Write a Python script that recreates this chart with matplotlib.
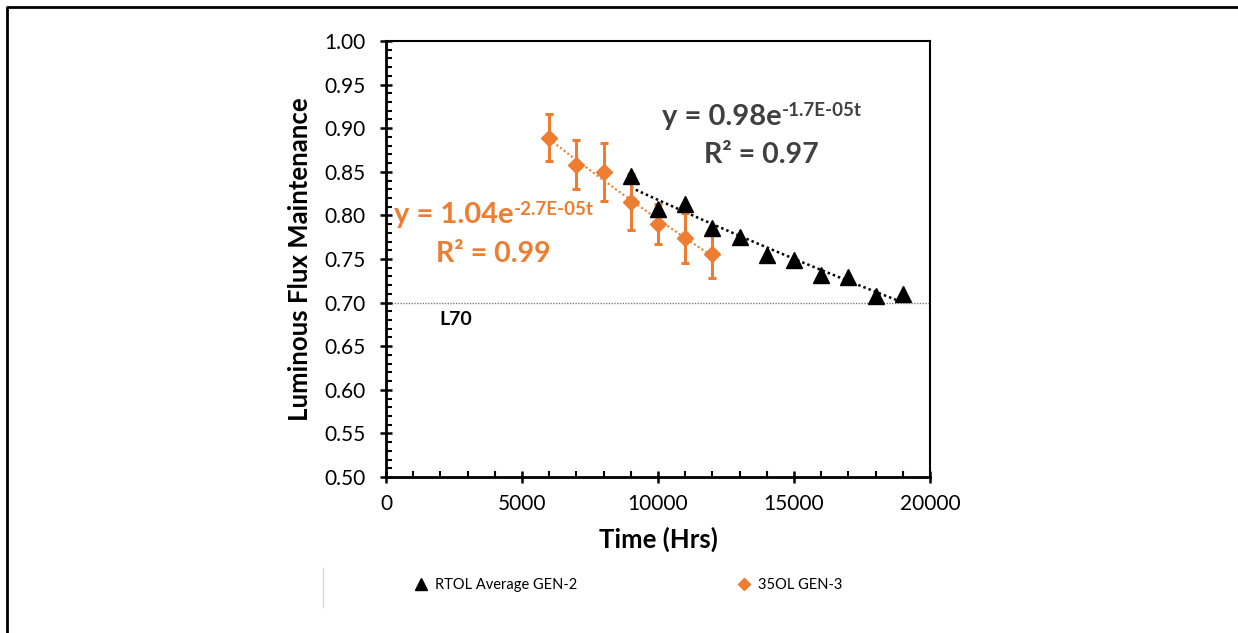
import numpy as np
import matplotlib
matplotlib.use("Agg")
import matplotlib.pyplot as plt
from matplotlib.ticker import MultipleLocator, FormatStrFormatter
from matplotlib.lines import Line2D

plt.rcParams["font.family"] = ["Lato", "DejaVu Sans"]

# ── Data ─────────────────────────────────────────────────────────────────────
gen2_t = [9000, 10000, 11000, 12000, 13000, 14000, 15000, 16000, 17000, 18000, 19000]
gen2_y = [0.845, 0.807, 0.813, 0.786, 0.775, 0.755, 0.749, 0.732, 0.729, 0.708, 0.710]

gen3_t = [6000, 7000, 8000, 9000, 10000, 11000, 12000]
gen3_y = [0.889, 0.858, 0.850, 0.815, 0.790, 0.774, 0.756]
gen3_err = [0.027, 0.028, 0.033, 0.032, 0.023, 0.029, 0.028]

L70 = 0.70

BLACK = "#000000"
ORANGE = "#ED7D31"
EQGRAY = "#404040"

# exponential trendlines (Excel style: fit ln(y) vs t)
def expfit(t, y):
    k, lna = np.polyfit(np.asarray(t, float), np.log(y), 1)
    return np.exp(lna), k

a2, k2 = expfit(gen2_t, gen2_y)
a3, k3 = expfit(gen3_t, gen3_y)

fig = plt.figure(figsize=(12.38, 6.33), dpi=100)
ax = fig.add_axes([386 / 1238, 1 - 477 / 633, 544 / 1238, 436 / 633])

# L70 reference line
ax.axhline(L70, color="#808080", lw=1.0, ls=(0, (1, 1)), zorder=1)
ax.text(2550, 0.681, "L70", fontsize=14, fontweight="bold", ha="center", va="center")

# trendlines
tt2 = np.linspace(gen2_t[0], gen2_t[-1], 100)
ax.plot(tt2, a2 * np.exp(k2 * tt2), color=BLACK, lw=1.8, ls=(0, (1, 1.2)), zorder=2)
tt3 = np.linspace(gen3_t[0], gen3_t[-1], 100)
ax.plot(tt3, a3 * np.exp(k3 * tt3), color=ORANGE, lw=1.5, ls=(0, (1, 1.2)), zorder=2)

# series
ax.errorbar(gen3_t, gen3_y, yerr=gen3_err, fmt="D", color=ORANGE, ms=8,
            ecolor=ORANGE, elinewidth=2.2, capsize=3, capthick=2.2, zorder=3)
ax.plot(gen2_t, gen2_y, "^", color=BLACK, ms=12, ls="none", zorder=4)

# equations
def equation(x, y, main, sup, color):
    t = ax.text(x, y, main, fontsize=21, fontweight="bold", color=color,
                ha="left", va="center", zorder=5)
    ax.annotate(sup, xy=(1.0, 1.0), xycoords=t, xytext=(0, 1),
                textcoords="offset points", fontsize=13.5, fontweight="bold",
                color=color, ha="left", va="top", zorder=5)

equation(10150, 0.913, "y = 0.98e", "-1.7E-05t", EQGRAY)
ax.text(13790, 0.869, "R² = 0.97", fontsize=20.5, fontweight="bold", color=EQGRAY,
        ha="center", va="center")
equation(294, 0.800, "y = 1.04e", "-2.7E-05t", ORANGE)
ax.text(3930, 0.7557, "R² = 0.99", fontsize=20.5, fontweight="bold", color=ORANGE,
        ha="center", va="center")

# axes formatting
ax.set_xlim(0, 20000)
ax.set_ylim(0.50, 1.00)
ax.xaxis.set_major_locator(MultipleLocator(5000))
ax.xaxis.set_minor_locator(MultipleLocator(1000))
ax.yaxis.set_major_locator(MultipleLocator(0.05))
ax.yaxis.set_minor_locator(MultipleLocator(0.01))
ax.yaxis.set_major_formatter(FormatStrFormatter("%.2f"))
ax.tick_params(which="major", direction="inout", length=9, width=1.8, labelsize=15)
ax.tick_params(which="minor", direction="in", length=4, width=1.5)
ax.tick_params(axis="x", pad=8)
ax.tick_params(axis="y", pad=10)
for side in ["left", "bottom"]:
    ax.spines[side].set_linewidth(2)
for side in ["top", "right"]:
    ax.spines[side].set_linewidth(1.5)

ax.set_xlabel("Time (Hrs)", fontsize=18.5, fontweight="bold", labelpad=9)
ax.set_ylabel("Luminous Flux Maintenance", fontsize=18.5, fontweight="bold", labelpad=9)

# legend (two single-entry legends, placed like the original)
entries = [
    (Line2D([], [], marker="^", color=BLACK, ls="none", ms=9), "RTOL Average GEN-2", 399),
    (Line2D([], [], marker="D", color=ORANGE, ls="none", ms=6), "35OL GEN-3", 722),
]
for h, lab, px in entries:
    fig.legend([h], [lab], loc="center left",
               bbox_to_anchor=(px / 1238, 1 - 585 / 633), frameon=False,
               fontsize=10.5, handletextpad=0.4, handlelength=1.2)

# faint legend-box edge and outer border
fig.add_artist(Line2D([323 / 1238, 323 / 1238], [1 - 568 / 633, 1 - 607 / 633],
                      color="#d9d9d9", lw=1))
fig.add_artist(Line2D([6.5 / 1238, 6.5 / 1238, 1], [0, 1 - 6.5 / 633, 1 - 6.5 / 633],
                      color=BLACK, lw=2))

fig.savefig("out.png", dpi=100, facecolor="white")
